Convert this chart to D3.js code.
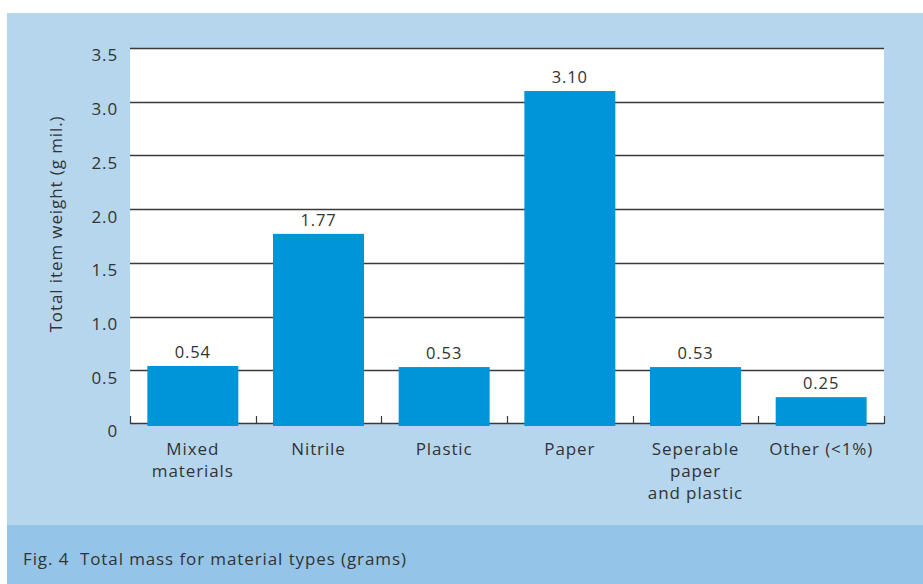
<!DOCTYPE html>
<html>
<head>
<meta charset="utf-8">
<script src="https://cdn.jsdelivr.net/npm/d3@7/dist/d3.min.js"></script>
<style>
  html, body { margin: 0; padding: 0; background: #ffffff; }
  svg { display: block; }
  text { font-family: "Open Sans", "DejaVu Sans", sans-serif; fill: #333333; letter-spacing: 0.9px; }
</style>
</head>
<body>
<svg id="chart" width="923" height="584"></svg>
<script>
// Material categories (multi-line labels split on "\n")
const categories = ["Mixed\nmaterials", "Nitrile", "Plastic", "Paper", "Seperable\npaper\nand plastic", "Other (<1%)"];
// Total item weight per category (g mil.)
const weights = [0.54, 1.77, 0.53, 3.10, 0.53, 0.25];
const valueLabels = ["0.54", "1.77", "0.53", "3.10", "0.53", "0.25"];
// Y axis ticks
const yTicks = [0, 0.5, 1.0, 1.5, 2.0, 2.5, 3.0, 3.5];
const yTickLabels = ["0", "0.5", "1.0", "1.5", "2.0", "2.5", "3.0", "3.5"];

const yTitle = "Total item weight (g mil.)";
const caption = "Fig. 4  Total mass for material types (grams)";

const W = 923, H = 584;
const svg = d3.select("#chart");

// Panel backgrounds
svg.append("rect").attr("x", 7).attr("y", 13).attr("width", W - 7).attr("height", 512).attr("fill", "#b6d6ee");
svg.append("rect").attr("x", 7).attr("y", 525).attr("width", W - 7).attr("height", H - 525).attr("fill", "#94c5e8");

const plot = { left: 130, right: 884, top: 48, bottom: 424 };

const x = d3.scaleBand()
  .domain(d3.range(categories.length))
  .range([plot.left, plot.right])
  .paddingInner(0.276)
  .paddingOuter(0.138);

const xBoundary = d3.scaleLinear()
  .domain([0, categories.length])
  .range([plot.left, plot.right]);

const y = d3.scaleLinear().domain([0, 3.5]).range([plot.bottom, plot.top]);

// White plotting area
svg.append("rect")
  .attr("x", plot.left).attr("y", plot.top)
  .attr("width", plot.right - plot.left).attr("height", plot.bottom - plot.top)
  .attr("fill", "#ffffff");

// Gridlines
svg.append("g").selectAll("line")
  .data(yTicks.filter(d => d > 0))
  .join("line")
  .attr("x1", plot.left).attr("x2", plot.right)
  .attr("y1", d => Math.round(y(d)) + 0.5).attr("y2", d => Math.round(y(d)) + 0.5)
  .attr("stroke", "#3a3a3a").attr("stroke-width", 1.3);

// Y axis tick labels
const yAxis = d3.axisLeft(y)
  .tickValues(yTicks)
  .tickFormat((d, i) => yTickLabels[i])
  .tickSize(0)
  .tickPadding(12);
const gy = svg.append("g").attr("transform", `translate(${plot.left},0)`).call(yAxis);
gy.select(".domain").remove();
gy.selectAll(".tick text")
  .attr("y", 0)
  .attr("dy", "0.35em")
  .attr("transform", "translate(0,7)")
  .style("font-size", "17px")
  .style("font-family", null)
  .attr("font-family", null)
  .attr("fill", "#333333");

// X axis baseline with category boundary ticks pointing up
const gx = svg.append("g");
gx.append("line")
  .attr("x1", plot.left).attr("x2", plot.right)
  .attr("y1", plot.bottom - 0.5).attr("y2", plot.bottom - 0.5)
  .attr("stroke", "#3a3a3a").attr("stroke-width", 1.5);
gx.selectAll("line.tick")
  .data(d3.range(categories.length + 1))
  .join("line")
  .attr("class", "tick")
  .attr("x1", d => Math.round(xBoundary(d)) + 0.5).attr("x2", d => Math.round(xBoundary(d)) + 0.5)
  .attr("y1", plot.bottom).attr("y2", plot.bottom - 8)
  .attr("stroke", "#3a3a3a").attr("stroke-width", 1.2);

// Bars
svg.append("g").selectAll("rect")
  .data(weights)
  .join("rect")
  .attr("x", (d, i) => x(i))
  .attr("width", x.bandwidth())
  .attr("y", d => y(d))
  .attr("height", d => y(0) - y(d) + 2)
  .attr("fill", "#0095d8");

// Value labels
svg.append("g").selectAll("text")
  .data(weights)
  .join("text")
  .attr("x", (d, i) => x(i) + x.bandwidth() / 2)
  .attr("y", d => y(d) - 8)
  .attr("text-anchor", "middle")
  .style("font-size", "16.5px")
  .text((d, i) => valueLabels[i]);

// Category labels
const cat = svg.append("g").selectAll("text")
  .data(categories)
  .join("text")
  .attr("x", (d, i) => x(i) + x.bandwidth() / 2)
  .attr("y", 455)
  .attr("text-anchor", "middle")
  .style("font-size", "17px");
cat.each(function (d) {
  const t = d3.select(this);
  d.split("\n").forEach((line, k) => {
    t.append("tspan")
      .attr("x", t.attr("x"))
      .attr("dy", k === 0 ? 0 : 22)
      .text(line);
  });
});

// Y axis title
svg.append("text")
  .attr("transform", `translate(62,${(plot.top + plot.bottom) / 2 - 12}) rotate(-90)`)
  .attr("text-anchor", "middle")
  .style("font-size", "17px")
  .text(yTitle);

// Caption
svg.append("text")
  .attr("x", 23).attr("y", 565)
  .style("font-size", "17px")
  .style("white-space", "pre")
  .text(caption);
</script>
</body>
</html>
